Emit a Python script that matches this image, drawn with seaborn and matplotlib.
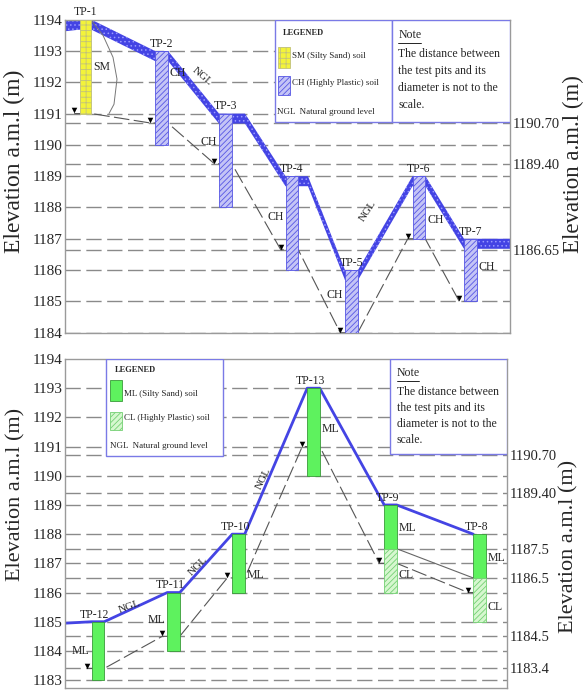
import numpy as np
import pandas as pd
import matplotlib
matplotlib.use("Agg")
import matplotlib.pyplot as plt
import seaborn as sns
from matplotlib.patches import Rectangle

sns.set_theme(style="white")
plt.rcParams['font.family'] = ['Liberation Serif', 'DejaVu Serif']
plt.rcParams['hatch.linewidth'] = 0.6

# ---------------- data: upper section (TP-1 ... TP-7) ----------------
top_pits = ["TP-1", "TP-2", "TP-3", "TP-4", "TP-5", "TP-6", "TP-7"]
top_station = [20.5, 96.5, 160.5, 227, 286.5, 354, 405.5]
top_pit_top = [1194, 1193, 1191, 1189, 1186, 1189, 1187]
top_pit_bottom = [1191, 1190, 1188, 1186, 1184, 1187, 1185]
top_soil = ["SM", "CH", "CH", "CH", "CH", "CH", "CH"]
top_water = [1191, 1190.7, 1189.4, 1186.65, 1184, 1187, 1185]
top_ngl_station = [0, 14, 26.5, 90, 103, 154, 167, 180, 220.5, 233.5, 243,
                   280, 293, 347.5, 360.5, 399, 412, 445]
top_ngl_elev = [1193.95, 1194, 1194, 1193, 1193, 1191, 1191, 1191, 1189, 1189, 1189,
                1186, 1186, 1189, 1189, 1187, 1187, 1187]
top_sm_curve_station = [27, 38, 48, 52, 49, 44]
top_sm_curve_elev = [1193.95, 1193.5, 1192.8, 1192.1, 1191.3, 1191.0]
top_soil_label_elev = [1192.5, 1192.3, 1190.1, 1187.7, 1185.2, 1187.6, 1186.1]
top_soil_label_side = ["R", "R", "L", "L", "L", "R", "R"]
top_yticks = [1184, 1185, 1186, 1187, 1188, 1189, 1190, 1191, 1192, 1193, 1194]
top_right_ticks = [1190.70, 1189.40, 1186.65]
top_right_labels = ["1190.70", "1189.40", "1186.65"]

# ---------------- data: lower section (TP-8 ... TP-13) ----------------
bot_pits = ["TP-12", "TP-11", "TP-10", "TP-13", "TP-9", "TP-8"]
bot_station = [33, 108.5, 173.5, 248.5, 325.5, 414.5]
bot_ml_top = [1185, 1186, 1188, 1193, 1189, 1188]
bot_ml_bottom = [1183, 1184, 1186, 1190, 1187.5, 1186.5]
bot_cl_bottom = [1183, 1184, 1186, 1190, 1186, 1185]
bot_water = [1183.4, 1184.5, 1186.5, 1191, 1187, 1186]
bot_ml_label_elev = [1184.0, 1185.05, 1186.6, 1191.6, 1188.2, 1187.2]
bot_ml_label_side = ["L", "L", "R", "R", "R", "R"]
bot_cl_label_elev = [None, None, None, None, 1186.6, 1185.5]
bot_yticks = [1183, 1184, 1185, 1186, 1187, 1188, 1189, 1190, 1191, 1192, 1193, 1194]
bot_right_ticks = [1190.70, 1189.40, 1187.5, 1186.5, 1184.5, 1183.4]
bot_right_labels = ["1190.70", "1189.40", "1187.5", "1186.5", "1184.5", "1183.4"]

# ---------------- style ----------------
HW = 6.25          # half width of a pit column
W = 2 * HW
GRID_C = "#8a8a8a"
BOX_C = "#7a7ae6"
CH_FACE, CH_EDGE = "#c4c4f6", "#5656e4"
SM_FACE, SM_EDGE = "#f3f33a", "#c2c27a"
ML_FACE, ML_EDGE = "#5ef25e", "#3a9a3a"
CL_FACE, CL_EDGE = "#d6f7cf", "#74d074"
NGL_C = "#4444e4"
WT_C = "#555555"

fig = plt.figure(figsize=(5.85, 6.91), dpi=100)
ax1 = fig.add_axes([65 / 585, 1 - 333.3 / 691, 445 / 585, 313.6 / 691])
ax2 = fig.add_axes([65 / 585, 1 - 688 / 691, 442 / 585, 329 / 691])


def frame(ax, ylim, xlim, yticks, grid_levels, right_ticks, right_labels,
          lab_y, rlab_y, lab_size, rlab_size):
    ax.set_xlim(*xlim)
    ax.set_ylim(*ylim)
    ax.set_xticks([])
    ax.set_yticks(yticks)
    ax.set_yticklabels([str(t) for t in yticks], fontsize=11)
    ax.tick_params(axis="y", length=0, pad=2)
    for s in ax.spines.values():
        s.set_color("#9a9a9a")
        s.set_linewidth(1.0)
    for lv in grid_levels:
        ax.axhline(lv, color=GRID_C, lw=1.0, linestyle=(0, (11, 4)), zorder=1)
    ax.set_ylabel("Elevation a.m.l (m)", fontsize=lab_size)
    ax.yaxis.set_label_coords(-0.09, lab_y)
    axr = ax.twinx()
    axr.set_ylim(*ylim)
    axr.set_yticks(right_ticks)
    axr.set_yticklabels(right_labels, fontsize=10.5)
    axr.tick_params(axis="y", length=0, pad=2)
    for s in axr.spines.values():
        s.set_visible(False)
    axr.set_ylabel("Elevation a.m.l (m)", fontsize=rlab_size, rotation=90)
    axr.yaxis.set_label_coords(1.118, rlab_y)
    axr.grid(False)
    return axr


def water_path(stations, water):
    xs, ys = [], []
    for s, w in zip(stations, water):
        xs += [s - HW - 5, s + HW]
        ys += [w, w]
    return xs, ys


def soil_text(ax, station, elev, side, label):
    if side == "R":
        ax.text(station + HW + 2, elev, label, ha="left", va="center", fontsize=8.5, zorder=6)
    else:
        ax.text(station - HW - 2, elev, label, ha="right", va="center", fontsize=8.5, zorder=6)


def note_box(ax, x0, y_note, y_line, y_rows):
    T = ax.transAxes
    ax.text(x0, y_note, "Note", transform=T, fontsize=8.5, va="center", zorder=6)
    ax.plot([x0, x0 + 0.05], [y_line, y_line], transform=T, color="black", lw=0.6, zorder=6)
    for ln, yy in zip(note_lines, y_rows):
        ax.text(x0, yy, ln, transform=T, fontsize=8.5, va="center", zorder=6)


note_lines = ["The distance between", "the test pits and its",
              "diameter is not to the", "scale."]

# ================= upper panel =================
top_grid = list(range(1184, 1194)) + top_right_ticks
frame(ax1, (1183.98, 1194), (0, 445), top_yticks, top_grid,
      top_right_ticks, top_right_labels, 0.55, 0.54, 17, 16.5)

ngl_x = np.array(top_ngl_station, dtype=float)
ngl_y = np.array(top_ngl_elev, dtype=float)
ax1.fill_between(ngl_x, ngl_y - 0.32, ngl_y, facecolor=NGL_C, edgecolor="#9a9aff",
                 hatch="....", linewidth=0, zorder=2)

wx, wy = water_path(top_station, top_water)
sns.lineplot(x=wx, y=wy, ax=ax1, sort=False, estimator=None, color=WT_C,
             lw=0.8, linestyle=(0, (14, 4)), zorder=2)
tri_x = [s - HW - 5 for s in top_station]
sns.scatterplot(x=tri_x, y=[w + 0.1 for w in top_water], ax=ax1, marker="v",
                color="black", s=16, linewidth=0, zorder=4)
sns.lineplot(x=top_sm_curve_station, y=top_sm_curve_elev, ax=ax1, sort=False,
             estimator=None, color="#777777", lw=0.7, zorder=2)

for name, s, t, b, soil in zip(top_pits, top_station, top_pit_top, top_pit_bottom, top_soil):
    if soil == "SM":
        ax1.bar(s, t - b, bottom=b, width=W - 1, facecolor=SM_FACE, edgecolor=SM_EDGE,
                hatch="+++", lw=0.6, zorder=3)
    else:
        ax1.bar(s, t - b, bottom=b, width=W, facecolor=CH_FACE, edgecolor=CH_EDGE,
                hatch="//////", lw=0.6, zorder=3)
    ax1.text(s, t + 0.04, name, ha="center", va="bottom", fontsize=8.5,
             clip_on=False, zorder=6)

for s, e, side, soil in zip(top_station, top_soil_label_elev, top_soil_label_side, top_soil):
    soil_text(ax1, s, e, side, soil)

ax1.text(137, 1192.2, "NGL", rotation=-40, fontsize=8, ha="center", va="center", zorder=6)
ax1.text(303, 1187.9, "NGL", rotation=57, fontsize=8, ha="center", va="center", zorder=6)

# legend + note boxes (upper)
T = ax1.transAxes
ax1.add_patch(Rectangle((0.472, 0.674), 0.263, 0.326, transform=T, facecolor="white",
                        edgecolor=BOX_C, lw=1.0, zorder=5))
ax1.add_patch(Rectangle((0.735, 0.674), 0.265, 0.326, transform=T, facecolor="white",
                        edgecolor=BOX_C, lw=1.0, zorder=5))
ax1.text(0.49, 0.958, "LEGENED", transform=T, fontsize=6, weight="bold", va="center", zorder=6)
ax1.add_patch(Rectangle((0.479, 0.846), 0.027, 0.067, transform=T, facecolor=SM_FACE,
                        edgecolor=SM_EDGE, hatch="+++", lw=0.6, zorder=6))
ax1.text(0.511, 0.884, "SM (Silty Sand) soil", transform=T, fontsize=6.5, va="center", zorder=6)
ax1.add_patch(Rectangle((0.479, 0.760), 0.027, 0.062, transform=T, facecolor=CH_FACE,
                        edgecolor=CH_EDGE, hatch="//////", lw=0.6, zorder=6))
ax1.text(0.511, 0.798, "CH (Highly Plastic) soil", transform=T, fontsize=6.5, va="center", zorder=6)
ax1.text(0.476, 0.706, "NGL  Natural ground level", transform=T, fontsize=6.5, va="center", zorder=6)
note_box(ax1, 0.749, 0.952, 0.927, [0.890, 0.836, 0.782, 0.728])

# ================= lower panel =================
bot_grid = list(range(1183, 1194)) + bot_right_ticks
frame(ax2, (1182.73, 1194), (0, 442), bot_yticks, bot_grid,
      bot_right_ticks, bot_right_labels, 0.587, 0.43, 16, 16)

# natural ground level line
gx, gy = [0], [bot_ml_top[0] - 0.05]
for s, t in zip(bot_station, bot_ml_top):
    gx += [s - HW, s + HW]
    gy += [t, t]
gx, gy = gx[:-1], gy[:-1]
sns.lineplot(x=gx, y=gy, ax=ax2, sort=False, estimator=None, color=NGL_C, lw=2.0, zorder=2)

wx, wy = water_path(bot_station, bot_water)
sns.lineplot(x=wx, y=wy, ax=ax2, sort=False, estimator=None, color=WT_C,
             lw=0.8, linestyle=(0, (14, 4)), zorder=2)
tri_x = [s - HW - 5 for s in bot_station]
sns.scatterplot(x=tri_x, y=[w + 0.1 for w in bot_water], ax=ax2, marker="v",
                color="black", s=16, linewidth=0, zorder=4)
# ML / CL boundary between TP-9 and TP-8
sns.lineplot(x=[bot_station[4] + HW, bot_station[5] - HW], y=[bot_ml_bottom[4], bot_ml_bottom[5]],
             ax=ax2, sort=False, estimator=None, color="#666666", lw=0.8, zorder=2)

for name, s, t, mb, cb in zip(bot_pits, bot_station, bot_ml_top, bot_ml_bottom, bot_cl_bottom):
    ax2.bar(s, t - mb, bottom=mb, width=W, facecolor=ML_FACE, edgecolor=ML_EDGE, lw=0.6, zorder=3)
    if mb - cb > 0:
        ax2.bar(s, mb - cb, bottom=cb, width=W, facecolor=CL_FACE, edgecolor=CL_EDGE,
                hatch="//////", lw=0.6, zorder=3)
    ax2.text(s - 3, t + 0.04, name, ha="center", va="bottom", fontsize=8.5, zorder=6)

for s, e, side in zip(bot_station, bot_ml_label_elev, bot_ml_label_side):
    soil_text(ax2, s, e, side, "ML")
for s, e in zip(bot_station, bot_cl_label_elev):
    if e is not None:
        soil_text(ax2, s, e, "R", "CL")

ax2.text(65, 1185.5, "NGL", rotation=20, fontsize=8, ha="center", va="center", zorder=6)
ax2.text(133, 1186.9, "NGL", rotation=45, fontsize=8, ha="center", va="center", zorder=6)
ax2.text(198, 1189.9, "NGL", rotation=64, fontsize=8, ha="center", va="center", zorder=6)

T = ax2.transAxes
ax2.add_patch(Rectangle((0.093, 0.705), 0.264, 0.295, transform=T, facecolor="white",
                        edgecolor=BOX_C, lw=1.0, zorder=5))
ax2.add_patch(Rectangle((0.735, 0.711), 0.265, 0.289, transform=T, facecolor="white",
                        edgecolor=BOX_C, lw=1.0, zorder=5))
ax2.text(0.113, 0.967, "LEGENED", transform=T, fontsize=6, weight="bold", va="center", zorder=6)
ax2.add_patch(Rectangle((0.102, 0.872), 0.027, 0.064, transform=T, facecolor=ML_FACE,
                        edgecolor=ML_EDGE, lw=0.6, zorder=6))
ax2.text(0.134, 0.894, "ML (Silty Sand) soil", transform=T, fontsize=6.5, va="center", zorder=6)
ax2.add_patch(Rectangle((0.102, 0.784), 0.027, 0.055, transform=T, facecolor=CL_FACE,
                        edgecolor=CL_EDGE, hatch="//////", lw=0.6, zorder=6))
ax2.text(0.134, 0.821, "CL (Highly Plastic) soil", transform=T, fontsize=6.5, va="center", zorder=6)
ax2.text(0.102, 0.736, "NGL  Natural ground level", transform=T, fontsize=6.5, va="center", zorder=6)
note_box(ax2, 0.751, 0.956, 0.933, [0.900, 0.851, 0.802, 0.753])

fig.savefig("out.png", dpi=100)
